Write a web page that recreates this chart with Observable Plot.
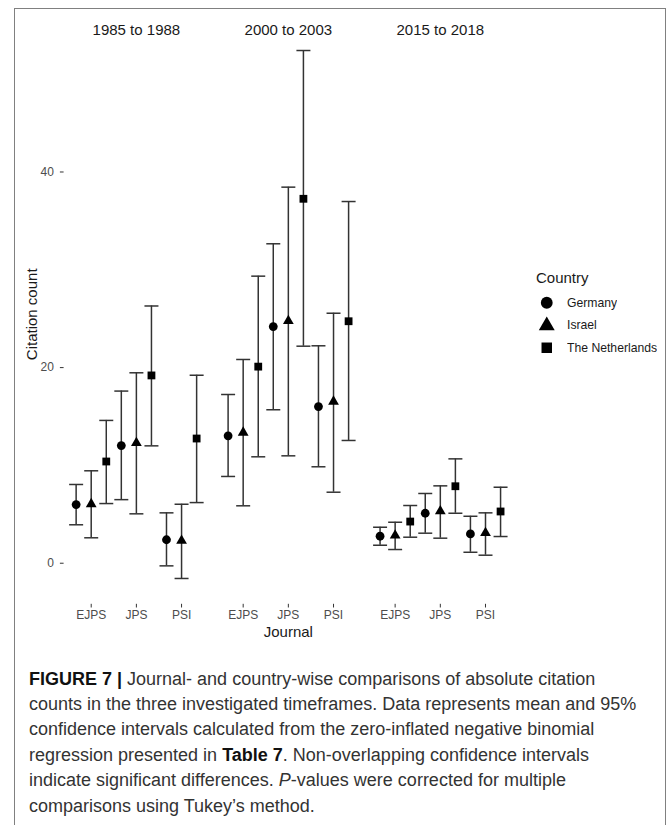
<!DOCTYPE html>
<html>
<head>
<meta charset="utf-8">
<script src="https://cdn.jsdelivr.net/npm/d3@7"></script>
<script src="https://cdn.jsdelivr.net/npm/@observablehq/plot@0.6"></script>
<style>
  html, body { margin: 0; padding: 0; background: #fff; }
  body { width: 669px; height: 825px; position: relative; overflow: hidden; font-family: 'Liberation Sans', Arial, sans-serif; }
  #frame { position: absolute; left: 14px; top: 8px; width: 652px; height: 850px; border: 1px solid #808080; box-sizing: border-box; }
  #chart { position: absolute; left: 0; top: 0; }
  #legendTitle { position: absolute; left: 536px; top: 270px; font-size: 15px; line-height: 15px; color: #1a1a1a; }
  #legend { position: absolute; left: 536.25px; top: 292px; }
  #legend > div { margin: 0 !important; min-height: 0 !important; }
  #legend, #legend * { font-family: 'Liberation Sans', Arial, sans-serif !important; font-size: 12.2px !important; color: #1a1a1a !important; }
  #legend svg { margin-right: 9.25px !important; }
  #caption { position: absolute; left: 29px; top: 666.5px; width: 640px; font-size: 18px; line-height: 25.4px; color: #333; white-space: nowrap; }
  #caption b { color: #111; }
</style>
</head>
<body>
<div id="frame"></div>
<div id="chart"></div>
<div id="legendTitle">Country</div>
<div id="legend"></div>
<div id="caption">
<b>FIGURE 7 |</b> Journal- and country-wise comparisons of absolute citation<br>
counts in the three investigated timeframes. Data represents mean and 95%<br>
confidence intervals calculated from the zero-inflated negative binomial<br>
regression presented in <b>Table 7</b>. Non-overlapping confidence intervals<br>
indicate significant differences. <i>P</i>-values were corrected for multiple<br>
comparisons using Tukey’s method.
</div>
<script>
// ---- data ----
const periods = ["1985 to 1988", "2000 to 2003", "2015 to 2018"];
const journals = ["EJPS", "JPS", "PSI"];
const countries = ["Germany", "Israel", "The Netherlands"];
const yTicks = [0, 20, 40];

// values ordered: period (1985, 2000, 2015) x journal (EJPS, JPS, PSI)
const germanyMean  = [6.0, 12.03, 2.4,   13.03, 24.2, 16.02,   2.76, 5.11, 3.0];
const germanyLower = [3.93, 6.5, -0.27,  8.87, 15.69, 9.86,    1.84, 3.07, 1.12];
const germanyUpper = [8.05, 17.6, 5.15,  17.25, 32.66, 22.23,  3.68, 7.13, 4.8];

const israelMean  = [6.05, 12.3, 2.3,    13.36, 24.77, 16.53,  2.85, 5.32, 3.1];
const israelLower = [2.6, 5.05, -1.56,   5.87, 10.98, 7.26,    1.4, 2.56, 0.82];
const israelUpper = [9.45, 19.47, 6.03,  20.83, 38.45, 25.56,  4.19, 7.91, 5.15];

const netherlandsMean  = [10.4, 19.2, 12.75,   20.1, 37.26, 24.74,   4.26, 7.87, 5.29];
const netherlandsLower = [6.1, 12.0, 6.2,      10.88, 22.19, 12.55,  2.66, 5.11, 2.73];
const netherlandsUpper = [14.6, 26.3, 19.22,   29.35, 52.42, 36.98,  5.9, 10.67, 7.77];

const series = {
  "Germany": [germanyMean, germanyLower, germanyUpper],
  "Israel": [israelMean, israelLower, israelUpper],
  "The Netherlands": [netherlandsMean, netherlandsLower, netherlandsUpper]
};

const rows = [];
countries.forEach(country => {
  const [m, lo, up] = series[country];
  periods.forEach((period, pi) => {
    journals.forEach((journal, ji) => {
      const k = pi * journals.length + ji;
      rows.push({country, period, journal, mean: m[k], lower: lo[k], upper: up[k]});
    });
  });
});

// ---- drawing ----
const dodge = {"Germany": -15.07, "Israel": 0, "The Netherlands": 15.07};
const capSymbol = { draw(ctx, size) { const w = Math.sqrt(size / Math.PI); ctx.moveTo(-w, 0); ctx.lineTo(w, 0); } };
const barColor = "#333";

const countryMarks = countries.flatMap(c => {
  const d = rows.filter(r => r.country === c);
  const dx = dodge[c];
  return [
    Plot.ruleX(d, {x: "journal", y1: "lower", y2: "upper", fx: "period", dx, stroke: barColor, strokeWidth: 1.5}),
    Plot.dot(d, {x: "journal", y: "upper", fx: "period", dx, symbol: capSymbol, r: 7, fill: "none", stroke: barColor, strokeWidth: 1.5}),
    Plot.dot(d, {x: "journal", y: "lower", fx: "period", dx, symbol: capSymbol, r: 7, fill: "none", stroke: barColor, strokeWidth: 1.5}),
    Plot.dot(d, {x: "journal", y: "mean", fx: "period", dx, symbol: "country", r: c === "Israel" ? 4.0 : 4.4, fill: "black", stroke: "none"})
  ];
});

const plot = Plot.plot({
  width: 669,
  height: 645,
  marginLeft: 63.6,
  marginRight: 156.9,
  marginTop: 23.8,
  marginBottom: 41.2,
  style: {fontFamily: "'Liberation Sans', Arial, sans-serif", background: "transparent", overflow: "visible"},
  fx: {domain: periods, paddingInner: 0.0487, paddingOuter: 0, round: false, label: null},
  x: {type: "point", domain: journals, padding: 0.6, round: false},
  y: {domain: [-4.2, 55.1]},
  symbol: {domain: countries, range: ["circle", "triangle", "square"]},
  marks: [
    Plot.axisFx({anchor: "top", tickSize: 0, tickPadding: 0, dy: 11, fontSize: 15, fill: "#1a1a1a", label: null}),
    Plot.axisY({ticks: yTicks, tickSize: 3.7, tickPadding: 6.5, fontSize: 12, fill: "#4d4d4d", stroke: "#333", label: null}),
    Plot.axisY({ticks: [], label: "Citation count", labelAnchor: "center", labelArrow: "none", labelOffset: 38, fontSize: 15, fill: "#1a1a1a"}),
    Plot.axisX({tickSize: 3.7, tickPadding: 2.5, fontSize: 12, fill: "#4d4d4d", stroke: "#333", label: null}),
    Plot.axisX({ticks: [], label: "Journal", labelAnchor: "center", labelArrow: "none", labelOffset: 33, fontSize: 15, fill: "#1a1a1a"}),
    ...countryMarks
  ]
});
document.getElementById("chart").appendChild(plot);

const legend = plot.legend("symbol", {columns: 1, fill: "black", stroke: "none", r: 4.4, swatchSize: 21.5});
document.getElementById("legend").appendChild(legend);
</script>
</body>
</html>
